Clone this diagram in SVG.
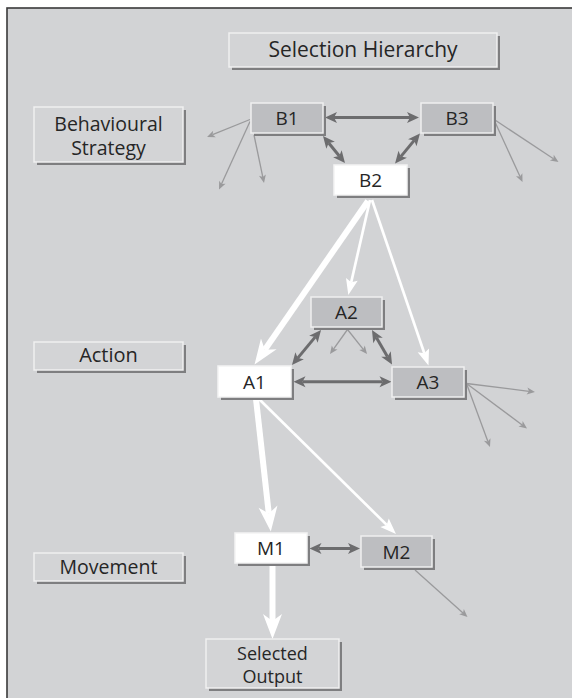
<svg xmlns="http://www.w3.org/2000/svg" width="572" height="698" viewBox="0 0 572 698">
<style>
text{font-family:"Open Sans","Liberation Sans",sans-serif;fill:#262626;text-anchor:middle}
.lbl{font-size:20px}
.nd{font-size:19px}
.sh{fill:#7e7e80}
.box{fill:#d3d4d6;stroke:#f0f0f0;stroke-width:1.5}
.dk{fill:#bdbec1;stroke:#efefef;stroke-width:1.5}
.wt{fill:#ffffff;stroke:#f4f4f4;stroke-width:1.5}
.dbl{stroke:#6c6c6e;stroke-width:3;fill:none;marker-start:url(#dkh);marker-end:url(#dkh)}
.gr{stroke:#9a9a9c;stroke-width:1.3;fill:none;marker-end:url(#grh)}
.ws{stroke:#ffffff;stroke-width:2.7;fill:none;marker-end:url(#whs)}
.wb{stroke:#ffffff;stroke-width:6;fill:none;marker-end:url(#whb)}
</style>
<defs>
<marker id="dkh" markerUnits="userSpaceOnUse" viewBox="-4 -6 14 12" refX="0" refY="0" markerWidth="14" markerHeight="12" orient="auto-start-reverse" overflow="visible"><path d="M9,0 L-3,-5.5 L0,0 L-3,5.5 Z" fill="#6c6c6e"/></marker>
<marker id="grh" markerUnits="userSpaceOnUse" viewBox="-3 -4 10 8" refX="0" refY="0" markerWidth="10" markerHeight="8" orient="auto" overflow="visible"><path d="M6,0 L-2,-3.5 L0,0 L-2,3.5 Z" fill="#9a9a9c"/></marker>
<marker id="whs" markerUnits="userSpaceOnUse" viewBox="-4 -7 18 14" refX="0" refY="0" markerWidth="18" markerHeight="14" orient="auto" overflow="visible"><path d="M13,0 L-3,-6 L0,0 L-3,6 Z" fill="#ffffff"/></marker>
<marker id="whb" markerUnits="userSpaceOnUse" viewBox="-8 -10 27 20" refX="0" refY="0" markerWidth="27" markerHeight="20" orient="auto" overflow="visible"><path d="M18,0 L-7,-9.5 L0,0 L-7,9.5 Z" fill="#ffffff"/></marker>
</defs>
<rect x="0" y="0" width="572" height="698" fill="#ffffff"/>
<rect x="7" y="8" width="580" height="700" fill="#d2d3d5" stroke="#3a3a3a" stroke-width="1.6"/>

<g id="connectors">
<line class="wb" x1="368" y1="201" x2="264.8" y2="349.7"/>
<line class="ws" x1="370" y1="200" x2="351.2" y2="282.3"/>
<line class="ws" x1="372" y1="200" x2="424.3" y2="353.2"/>
<line class="ws" x1="259" y1="399" x2="386.7" y2="524.9"/>
<line class="wb" x1="256" y1="399" x2="268.8" y2="513.6"/>
<line class="wb" x1="272.5" y1="565" x2="272.5" y2="621"/>

<line class="dbl" x1="334" y1="117.5" x2="410" y2="117.5"/>
<line class="dbl" x1="328.7" y1="143" x2="339.3" y2="156"/>
<line class="dbl" x1="414.2" y1="140.4" x2="400.8" y2="156.6"/>
<line class="dbl" x1="297.7" y1="358.1" x2="315.3" y2="336.9"/>
<line class="dbl" x1="376.5" y1="337.8" x2="387.5" y2="356.7"/>
<line class="dbl" x1="302.5" y1="381.7" x2="382.5" y2="381.7"/>
<line class="dbl" x1="318.5" y1="548.5" x2="351" y2="548.5"/>

<line class="gr" x1="250" y1="119.5" x2="212.6" y2="134.7"/>
<line class="gr" x1="250" y1="121.5" x2="221.5" y2="184"/>
<line class="gr" x1="254" y1="135" x2="262.8" y2="177.1"/>
<line class="gr" x1="495" y1="120" x2="553.5" y2="158.7"/>
<line class="gr" x1="495" y1="122" x2="520" y2="176.5"/>
<line class="gr" x1="347.5" y1="329.5" x2="333.5" y2="349.1"/>
<line class="gr" x1="347.5" y1="329.5" x2="363.3" y2="349.3"/>
<line class="gr" x1="466.5" y1="383.5" x2="529" y2="391.3"/>
<line class="gr" x1="466.5" y1="383.5" x2="522.2" y2="424.9"/>
<line class="gr" x1="466.5" y1="383.5" x2="487.9" y2="441.4"/>
<line class="gr" x1="415" y1="570" x2="463" y2="613"/>
</g>

<g id="title"><rect class="sh" x="232" y="36" width="268" height="34"/><rect class="box" x="229" y="33" width="268" height="34"/><text x="363" y="57" style="font-size:21px">Selection Hierarchy</text></g>
<g id="label-behavioural"><rect class="sh" x="37" y="110" width="149" height="55"/><rect class="box" x="34" y="107" width="149" height="55"/><text class="lbl" x="108.5" y="130.5" style="font-size:19.5px">Behavioural</text><text class="lbl" x="108.5" y="155" style="font-size:19.5px">Strategy</text></g>
<g id="label-action"><rect class="sh" x="37" y="345" width="149" height="28"/><rect class="box" x="34" y="342" width="149" height="28"/><text class="lbl" x="108.5" y="361.5">Action</text></g>
<g id="label-movement"><rect class="sh" x="37" y="556" width="149" height="28"/><rect class="box" x="34" y="553" width="149" height="28"/><text class="lbl" x="108.5" y="573.5" style="font-size:19.5px">Movement</text></g>
<g id="output"><rect class="sh" x="209" y="642" width="133" height="49"/><rect class="box" x="206" y="639" width="133" height="49"/><text x="272.5" y="659.5" style="font-size:18px">Selected</text><text x="272.5" y="683" style="font-size:18px">Output</text></g>

<g id="B1"><rect class="sh" x="254" y="106" width="72" height="30"/><rect class="dk" x="251" y="103" width="72" height="30"/><text class="nd" x="287" y="125">B1</text></g>
<g id="B3"><rect class="sh" x="424" y="106" width="72" height="30"/><rect class="dk" x="421" y="103" width="72" height="30"/><text class="nd" x="457" y="125">B3</text></g>
<g id="B2"><rect class="sh" x="337" y="168" width="73" height="30"/><rect class="wt" x="334" y="165" width="73" height="30"/><text class="nd" x="370.5" y="187">B2</text></g>
<g id="A2"><rect class="sh" x="314" y="300" width="71" height="30"/><rect class="dk" x="311" y="297" width="71" height="30"/><text class="nd" x="346.5" y="319">A2</text></g>
<g id="A1"><rect class="sh" x="221" y="369" width="73" height="31"/><rect class="wt" x="218" y="366" width="73" height="31"/><text class="nd" x="254.5" y="388.5">A1</text></g>
<g id="A3"><rect class="sh" x="395" y="370" width="72" height="30"/><rect class="dk" x="392" y="367" width="72" height="30"/><text class="nd" x="428" y="389">A3</text></g>
<g id="M1"><rect class="sh" x="238" y="536" width="72" height="30"/><rect class="wt" x="235" y="533" width="72" height="30"/><text class="nd" x="271" y="555">M1</text></g>
<g id="M2"><rect class="sh" x="364" y="539" width="71" height="31"/><rect class="dk" x="361" y="536" width="71" height="31"/><text class="nd" x="396.5" y="558.5">M2</text></g>
</svg>
